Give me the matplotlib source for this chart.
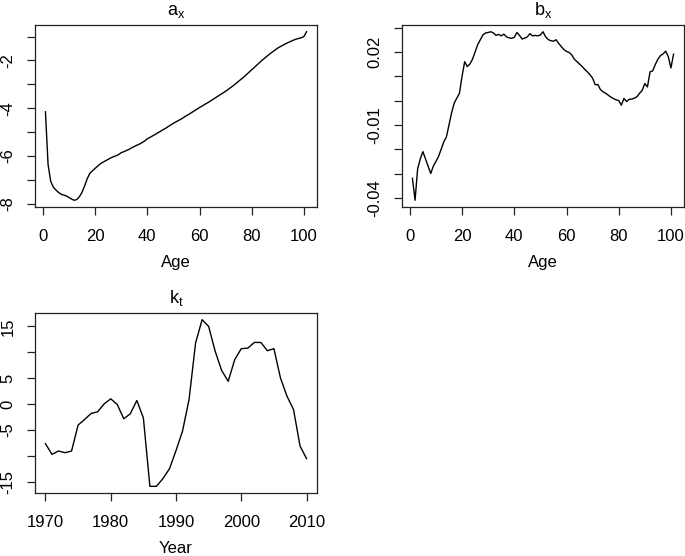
import numpy as np
import matplotlib
matplotlib.use("Agg")
import matplotlib.pyplot as plt

plt.rcParams['font.family'] = ['Liberation Sans', 'DejaVu Sans']
plt.rcParams['mathtext.default'] = 'regular'
plt.rcParams['axes.unicode_minus'] = False

# ---------------- data ----------------
ages = list(range(1, 102))

a_x = [-4.15, -6.35, -7.05, -7.30, -7.42, -7.52, -7.60, -7.63, -7.67, -7.73,
       -7.80, -7.85, -7.82, -7.70, -7.52, -7.25, -6.95, -6.72, -6.62, -6.52,
       -6.42, -6.33, -6.26, -6.20, -6.14, -6.08, -6.03, -5.99, -5.94, -5.86,
       -5.82, -5.77, -5.72, -5.66, -5.60, -5.55, -5.50, -5.44, -5.37, -5.28,
       -5.22, -5.16, -5.10, -5.03, -4.97, -4.90, -4.84, -4.77, -4.70, -4.63,
       -4.57, -4.51, -4.45, -4.38, -4.31, -4.25, -4.18, -4.11, -4.04, -3.97,
       -3.91, -3.84, -3.78, -3.71, -3.64, -3.57, -3.50, -3.43, -3.36, -3.29,
       -3.21, -3.13, -3.05, -2.96, -2.87, -2.78, -2.69, -2.59, -2.49, -2.39,
       -2.29, -2.19, -2.09, -1.99, -1.90, -1.81, -1.72, -1.64, -1.56, -1.48,
       -1.42, -1.36, -1.30, -1.25, -1.20, -1.15, -1.11, -1.08, -1.05, -1.00,
       -0.80]

b_x = [-0.0320, -0.0410, -0.0280, -0.0240, -0.0210, -0.0240, -0.0270, -0.0300, -0.0270, -0.0250,
       -0.0230, -0.0200, -0.0170, -0.0150, -0.0100, -0.0050, -0.0010, 0.0010, 0.0030, 0.0100,
       0.0160, 0.0140, 0.0150, 0.0170, 0.0200, 0.0230, 0.0250, 0.0270, 0.0278, 0.0280,
       0.0283, 0.0278, 0.0268, 0.0272, 0.0266, 0.0273, 0.0262, 0.0258, 0.0256, 0.0260,
       0.0280, 0.0268, 0.0253, 0.0257, 0.0262, 0.0275, 0.0266, 0.0268, 0.0266, 0.0270,
       0.0283, 0.0262, 0.0251, 0.0246, 0.0244, 0.0250, 0.0235, 0.0222, 0.0210, 0.0202,
       0.0198, 0.0188, 0.0170, 0.0160, 0.0150, 0.0140, 0.0128, 0.0118, 0.0106, 0.0092,
       0.0065, 0.0066, 0.0045, 0.0036, 0.0030, 0.0022, 0.0014, 0.0008, 0.0003, 0.0000,
       -0.0019, 0.0009, -0.0004, 0.0005, 0.0006, 0.0010, 0.0016, 0.0030, 0.0042, 0.0070,
       0.0056, 0.0118, 0.0122, 0.0148, 0.0170, 0.0185, 0.0192, 0.0203, 0.0180, 0.0134,
       0.0191]

years = list(range(1970, 2011))
k_t = [-7.66, -9.72, -9.08, -9.40, -9.08, -4.07, -2.98, -1.82, -1.50, 0.05,
       1.00, -0.09, -2.85, -1.88, 0.68, -2.66, -15.90, -15.90, -14.40, -12.50,
       -9.00, -5.23, 0.88, 11.80, 16.30, 15.00, 10.20, 6.46, 4.40, 8.60,
       10.70, 10.80, 11.90, 11.90, 10.30, 10.70, 5.05, 1.51, -1.05, -8.10,
       -10.55]

age_ticks = [0, 20, 40, 60, 80, 100]
ax_ticks = [-8, -7, -6, -5, -4, -3, -2, -1]
ax_labels = ['-8', '', '-6', '', '-4', '', '-2', '']
bx_ticks = [-0.04, -0.03, -0.02, -0.01, 0.00, 0.01, 0.02, 0.03]
bx_labels = ['-0.04', '', '', '-0.01', '', '', '0.02', '']
year_ticks = [1970, 1980, 1990, 2000, 2010]
kt_ticks = [-15, -10, -5, 0, 5, 10, 15]
kt_labels = ['-15', '', '-5', '0', '5', '', '15']

# ---------------- figure ----------------
W, H = 685, 556
fig = plt.figure(figsize=(W / 100, H / 100), dpi=100)


def rect(x0, y0, x1, y1):
    return [x0 / W, 1 - y1 / H, (x1 - x0) / W, (y1 - y0) / H]


def rpad(lo, hi):
    r = hi - lo
    return lo - 0.04 * r, hi + 0.04 * r


def style(ax, title, xlabel, xticks, yticks, ylabels):
    for s in ax.spines.values():
        s.set_linewidth(0.9)
        s.set_color('#222222')
    ax.set_xticks(xticks)
    ax.set_xticklabels([str(t) for t in xticks])
    ax.set_yticks(yticks)
    ax.set_yticklabels(ylabels, rotation=90, va='center')
    ax.tick_params(axis='x', length=6, width=0.9, pad=10, labelsize=12, color='#222222')
    ax.tick_params(axis='y', length=6, width=0.9, pad=8, labelsize=12, color='#222222')
    ax.set_xlabel(xlabel, fontsize=12, labelpad=8)
    ax.set_title(title, fontsize=13, pad=7)


ax1 = fig.add_axes(rect(35, 25, 317, 207))
ax1.plot(ages, a_x, color='black', lw=1.0)
ax1.set_xlim(*rpad(min(ages), max(ages)))
ax1.set_ylim(*rpad(min(a_x), max(a_x)))
style(ax1, r'$a_x$', 'Age', age_ticks, ax_ticks, ax_labels)

ax2 = fig.add_axes(rect(402, 25, 684, 207))
ax2.plot(ages, b_x, color='black', lw=1.0)
ax2.set_xlim(*rpad(min(ages), max(ages)))
ax2.set_ylim(*rpad(min(b_x), max(b_x)))
style(ax2, r'$b_x$', 'Age', age_ticks, bx_ticks, bx_labels)

ax3 = fig.add_axes(rect(35, 313, 317, 493))
ax3.plot(years, k_t, color='black', lw=1.0)
ax3.set_xlim(*rpad(min(years), max(years)))
ax3.set_ylim(*rpad(min(k_t), max(k_t)))
style(ax3, r'$k_t$', 'Year', year_ticks, kt_ticks, kt_labels)

fig.savefig('out.png', dpi=100)
